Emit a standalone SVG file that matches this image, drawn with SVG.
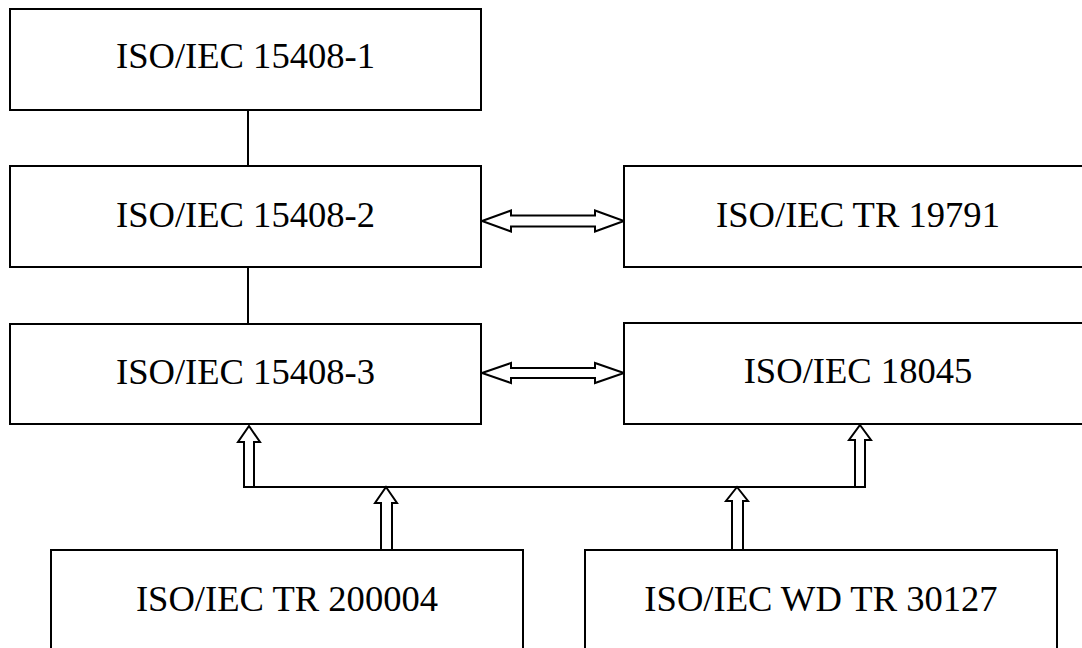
<svg xmlns="http://www.w3.org/2000/svg" width="1082" height="648" viewBox="0 0 1082 648">
  <style>
    .box { fill: #ffffff; stroke: #000000; stroke-width: 2; }
    .lbl { font-family: 'Liberation Serif', 'DejaVu Serif', serif; font-size: 36.6px; fill: #000000; text-anchor: middle; }
    .line { fill: none; stroke: #000000; stroke-width: 2; }
    .arrow { fill: #ffffff; stroke: #000000; stroke-width: 2; stroke-linejoin: miter; }
  </style>
  <rect width="1082" height="648" fill="#ffffff"/>

  <!-- connectors -->
  <g id="connectors">
    <line class="line" x1="248" y1="110" x2="248" y2="166"/>
    <line class="line" x1="248" y1="267" x2="248" y2="324"/>
    <!-- double block arrows between columns -->
    <polygon class="arrow" points="482,221 511,210.5 511,215.5 595,215.5 595,210.5 624,221 595,231.5 595,226.5 511,226.5 511,231.5"/>
    <polygon class="arrow" points="482,373 511,363 511,368 595,368 595,363 624,373 595,383 595,378 511,378 511,383"/>
    <!-- block arrows up -->
    <polygon class="arrow" points="249,426 260,442 254,442 254,487 244,487 244,442 238,442"/>
    <polygon class="arrow" points="860,425 871,440 865,440 865,487 855,487 855,440 849,440"/>
    <polygon class="arrow" points="386,487 397,503 392,503 392,550 381,550 381,503 375,503"/>
    <polygon class="arrow" points="737,487 748,501 743,501 743,550 732,550 732,501 726,501"/>
    <line class="line" x1="244" y1="487" x2="865" y2="487"/>
  </g>

  <g id="n-15408-1">
    <rect class="box" x="10" y="9" width="471" height="101"/>
    <text class="lbl" x="245.5" y="68">ISO/IEC 15408-1</text>
  </g>
  <g id="n-15408-2">
    <rect class="box" x="10" y="166" width="471" height="101"/>
    <text class="lbl" x="245.5" y="227">ISO/IEC 15408-2</text>
  </g>
  <g id="n-15408-3">
    <rect class="box" x="10" y="324" width="471" height="100"/>
    <text class="lbl" x="245.5" y="384">ISO/IEC 15408-3</text>
  </g>
  <g id="n-19791">
    <rect class="box" x="624" y="166" width="470" height="101"/>
    <text class="lbl" x="858" y="227">ISO/IEC TR 19791</text>
  </g>
  <g id="n-18045">
    <rect class="box" x="624" y="323" width="470" height="101"/>
    <text class="lbl" x="858" y="383">ISO/IEC 18045</text>
  </g>
  <g id="n-200004">
    <rect class="box" x="51" y="550" width="472" height="101"/>
    <text class="lbl" x="287" y="611">ISO/IEC TR 200004</text>
  </g>
  <g id="n-30127">
    <rect class="box" x="585" y="550" width="472" height="101"/>
    <text class="lbl" x="821" y="611">ISO/IEC WD TR 30127</text>
  </g>
</svg>
